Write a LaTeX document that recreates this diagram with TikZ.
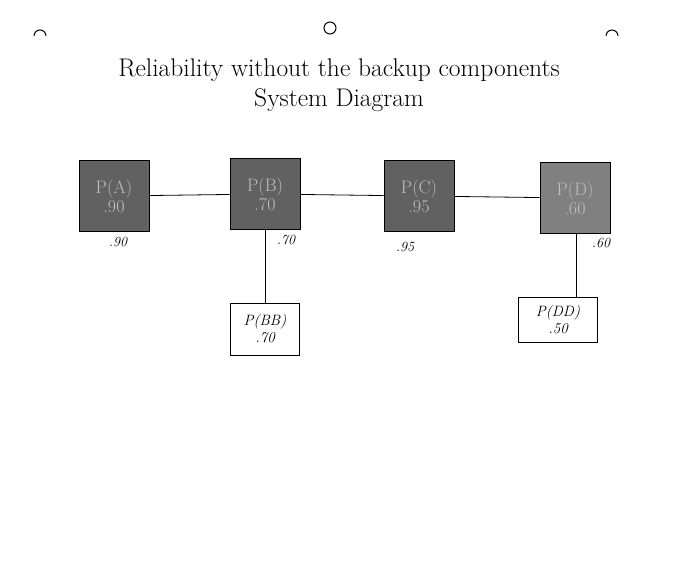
\documentclass[tikz,border=0pt]{standalone}
\begin{document}
\begin{tikzpicture}[x=1pt,y=-1pt,
  comp/.style={draw=black,line width=1pt,fill=black!62,text=black!25,minimum width=70pt,minimum height=71pt,align=center,font=\fontsize{18}{19}\selectfont,inner sep=0pt},
  backup/.style={draw=black,line width=0.8pt,fill=white,align=center,font=\itshape\fontsize{15}{17}\selectfont,inner sep=0pt},
  lbl/.style={font=\itshape\fontsize{14}{16}\selectfont},
  wire/.style={line width=0.8pt}]
\useasboundingbox (0,0) rectangle (700,578);
\node[font=\fontsize{25.5}{28}\selectfont] (t1) at (339,70) {Reliability without the backup components};
\node[font=\fontsize{25.5}{28}\selectfont] (t2) at (339,100) {System Diagram};
\node[comp] (a) at (114,196) {P(A)\\.90};
\node[comp] (b) at (265,194) {P(B)\\.70};
\node[comp] (c) at (419,196) {P(C)\\.95};
\node[comp,fill=black!50] (d) at (575,198) {P(D)\\.60};
\node[backup,minimum width=69pt,minimum height=52pt] (bb) at (265,329) {P(BB)\\.70};
\node[backup,minimum width=79pt,minimum height=45pt] (dd) at (558,320) {P(DD)\\.50};
\draw[wire] (a) -- (b);
\draw[wire] (b) -- (c);
\draw[wire] (c) -- (d);
\draw[wire] (bb.north) -- (bb.north |- b.south);
\draw[wire] (576,320 |- dd.north) -- (576,320 |- d.south);
\node[lbl] (la) at (118,242) {.90};
\node[lbl] (lb) at (286,240) {.70};
\node[lbl] (lc) at (405,247) {.95};
\node[lbl] (ld) at (601,243) {.60};
\draw[line width=1pt] (34,36) arc (180:360:6);
\draw[line width=1pt] (330,28) circle (6);
\draw[line width=1pt] (606,36) arc (180:360:6);
\end{tikzpicture}
\end{document}
